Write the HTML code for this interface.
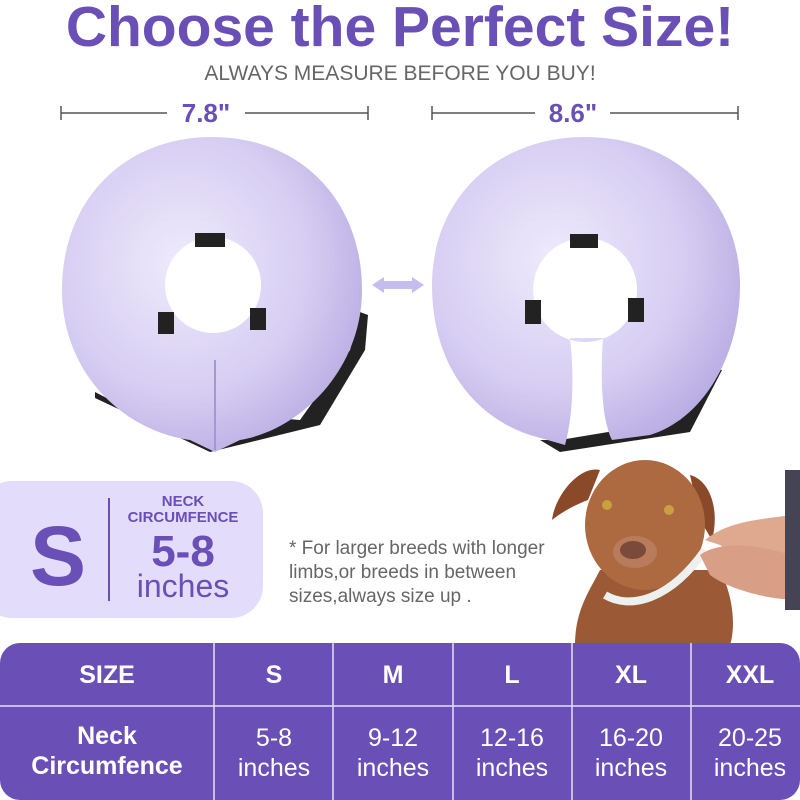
<!DOCTYPE html>
<html><head><meta charset="utf-8"><style>
body{margin:0;width:800px;height:800px;background:#fff;overflow:hidden;position:relative;font-family:"Liberation Sans",sans-serif}
.a{position:absolute;white-space:nowrap}
</style></head><body>
<div class="a" style="left:0;width:800px;top:-6px;text-align:center;font-weight:bold;font-size:57px;color:#6a4fb6;">Choose the Perfect Size!</div>
<div class="a" style="left:0;width:800px;top:62px;text-align:center;font-size:21px;color:#666;">ALWAYS MEASURE BEFORE YOU BUY!</div>
<svg class="a" style="left:0;top:0" width="800" height="800">
<defs>
<radialGradient id="g" cx="40%" cy="40%" r="70%"><stop offset="0" stop-color="#efeafc"/><stop offset="0.6" stop-color="#d6cdf2"/><stop offset="1" stop-color="#b4a7e0"/></radialGradient>
</defs>
<g stroke="#555" stroke-width="1.5">
<line x1="61" y1="113" x2="167" y2="113"/><line x1="245" y1="113" x2="368" y2="113"/>
<line x1="61" y1="106" x2="61" y2="120"/><line x1="368" y1="106" x2="368" y2="120"/>
<line x1="432" y1="113" x2="535" y2="113"/><line x1="610" y1="113" x2="738" y2="113"/>
<line x1="432" y1="106" x2="432" y2="120"/><line x1="738" y1="106" x2="738" y2="120"/>
</g>
<text x="206" y="122" text-anchor="middle" font-family="Liberation Sans" font-weight="bold" font-size="26" fill="#6a4fb6">7.8"</text>
<text x="573" y="122" text-anchor="middle" font-family="Liberation Sans" font-weight="bold" font-size="26" fill="#6a4fb6">8.6"</text>
<!-- left ring -->
<path d="M95 392 L120 405 L300 420 L350 350 L360 312 L368 315 L365 350 L320 425 L210 452 L95 398Z" fill="#222"/>
<path fill-rule="evenodd" fill="url(#g)" d="M212 137 C300 137 362 200 362 290 C362 370 300 430 240 440 L215 452 L190 440 C120 430 62 370 62 290 C62 200 124 137 212 137Z M213 237 a48 48 0 1 0 0.1 0Z"/>
<line x1="215" y1="360" x2="215" y2="450" stroke="#a597d6" stroke-width="2"/>
<rect x="195" y="233" width="30" height="14" fill="#222"/><rect x="158" y="312" width="16" height="22" fill="#222"/><rect x="250" y="308" width="16" height="22" fill="#222"/>
<!-- arrow -->
<path d="M372 285 L384 277 L384 281 L412 281 L412 277 L424 285 L412 293 L412 289 L384 289 L384 293Z" fill="#c7bcee"/>
<!-- right ring -->
<path d="M540 440 L560 452 L690 432 L722 370 L712 368 L680 420 L560 440Z" fill="#222"/>
<path fill-rule="evenodd" fill="url(#g)" d="M585 137 C675 137 740 200 740 285 C740 360 700 420 650 435 L612 440 C602 420 600 380 603 338 L570 338 C575 380 572 420 565 445 L530 435 C470 415 432 360 432 285 C432 200 495 137 585 137Z M585 238 a52 52 0 1 0 0.1 0Z"/>
<rect x="570" y="234" width="28" height="14" fill="#222"/><rect x="525" y="300" width="16" height="24" fill="#222"/><rect x="628" y="298" width="16" height="24" fill="#222"/>
<!-- badge -->
<rect x="-20" y="481" width="283" height="137" rx="32" fill="#e3dcfb"/>
<line x1="109" y1="498" x2="109" y2="601" stroke="#6a4fb6" stroke-width="2"/>
<text x="58" y="585" text-anchor="middle" font-family="Liberation Sans" font-weight="bold" font-size="84" fill="#6a4fb6">S</text>
<text x="183" y="506" text-anchor="middle" font-family="Liberation Sans" font-weight="bold" font-size="15" fill="#6a4fb6">NECK</text>
<text x="183" y="522" text-anchor="middle" font-family="Liberation Sans" font-weight="bold" font-size="15" fill="#6a4fb6">CIRCUMFENCE</text>
<text x="183" y="566" text-anchor="middle" font-family="Liberation Sans" font-weight="bold" font-size="44" fill="#6a4fb6">5-8</text>
<text x="183" y="597" text-anchor="middle" font-family="Liberation Sans" font-size="32" fill="#6a4fb6">inches</text>
<text font-family="Liberation Sans" font-size="19" fill="#666"><tspan x="289" y="554">* For larger breeds with longer</tspan><tspan x="289" y="578">limbs,or breeds in between</tspan><tspan x="289" y="602">sizes,always size up .</tspan></text>
<!-- dog -->
<path d="M575 645 C575 610 590 590 600 570 L720 570 C735 600 735 630 730 645Z" fill="#9b5a35"/>
<path d="M600 470 C580 465 555 495 552 520 C565 510 575 505 588 500 Z" fill="#8a4a2a"/>
<path d="M690 475 C710 480 720 510 712 540 L700 520Z" fill="#8a4a2a"/>
<ellipse cx="645" cy="525" rx="60" ry="65" fill="#ad6a40"/>
<ellipse cx="635" cy="552" rx="22" ry="16" fill="#b87c5c"/>
<ellipse cx="633" cy="550" rx="13" ry="9" fill="#7a4a3a"/>
<circle cx="607" cy="505" r="5" fill="#c9a040"/><circle cx="669" cy="510" r="5" fill="#c9a040"/>
<path d="M605 595 C630 610 670 600 705 550" stroke="#eef0f0" stroke-width="8" fill="none"/>
<path d="M705 540 C730 520 760 520 790 515 L800 520 L800 560 C770 565 740 560 720 545Z" fill="#dea98e"/>
<path d="M700 555 C720 540 760 545 790 555 L800 560 L800 600 C770 600 730 590 710 575Z" fill="#d89f86"/>
<rect x="785" y="470" width="15" height="140" fill="#445"/>
<!-- table -->
<rect x="0" y="643" width="800" height="157" rx="20" fill="#6a4fb6"/>
<g stroke="#e6e0f6" stroke-width="1.5">
<line x1="0" y1="706" x2="800" y2="706"/>
<line x1="214" y1="643" x2="214" y2="800"/><line x1="333" y1="643" x2="333" y2="800"/><line x1="453" y1="643" x2="453" y2="800"/><line x1="572" y1="643" x2="572" y2="800"/><line x1="691" y1="643" x2="691" y2="800"/>
</g>
<g font-family="Liberation Sans" fill="#fff" text-anchor="middle">
<g font-weight="bold" font-size="25">
<text x="107" y="683">SIZE</text><text x="274" y="683">S</text><text x="393" y="683">M</text><text x="512" y="683">L</text><text x="631" y="683">XL</text><text x="750" y="683">XXL</text>
<text x="107" y="744">Neck</text><text x="107" y="774">Circumfence</text>
</g>
<g font-size="25">
<text x="274" y="746">5-8</text><text x="274" y="776">inches</text>
<text x="393" y="746">9-12</text><text x="393" y="776">inches</text>
<text x="512" y="746">12-16</text><text x="512" y="776">inches</text>
<text x="631" y="746">16-20</text><text x="631" y="776">inches</text>
<text x="750" y="746">20-25</text><text x="750" y="776">inches</text>
</g></g>
</svg>
</body></html>
